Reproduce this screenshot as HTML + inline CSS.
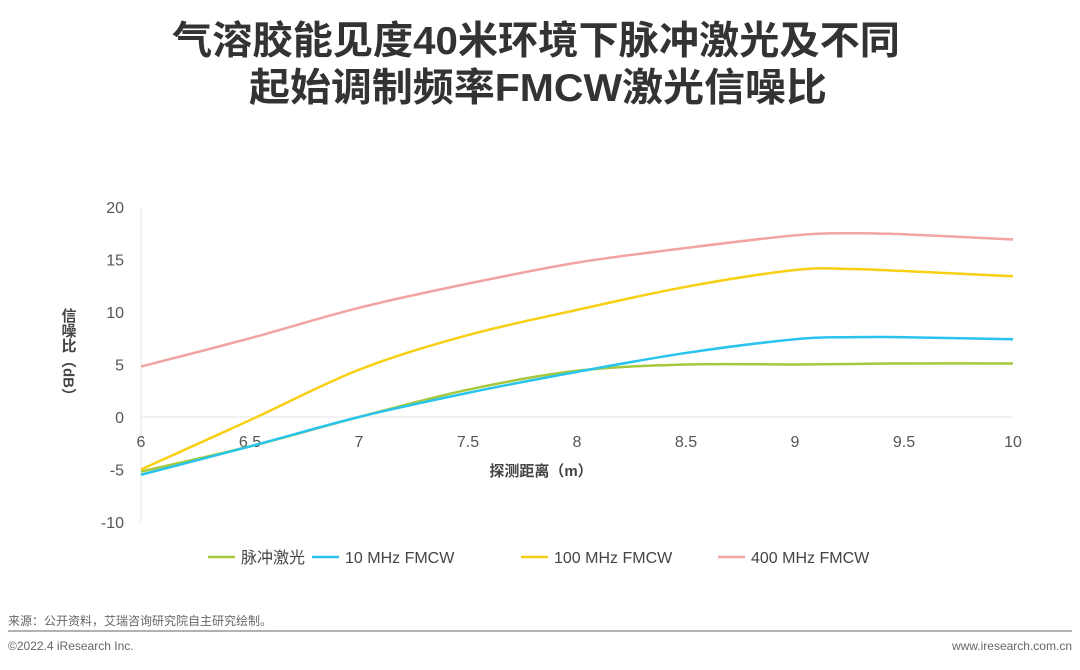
<!DOCTYPE html>
<html><head><meta charset="utf-8"><style>
body{margin:0;width:1080px;height:665px;background:#fff;overflow:hidden;font-family:"Liberation Sans","Noto Sans CJK SC",sans-serif;}
</style></head><body>
<svg width="1080" height="665" xmlns="http://www.w3.org/2000/svg" font-family="Liberation Sans, Noto Sans CJK SC, sans-serif">
<g font-size="39" font-weight="bold" fill="#333" text-anchor="middle">
<text x="536" y="54" textLength="728" lengthAdjust="spacingAndGlyphs">气溶胶能见度40米环境下脉冲激光及不同</text>
<text x="538" y="101" textLength="578" lengthAdjust="spacingAndGlyphs">起始调制频率FMCW激光信噪比</text>
</g>
<g id="axes"></g>
<g id="series"></g>
<text x="541" y="476" font-size="15" font-weight="bold" fill="#444" text-anchor="middle">探测距离（m）</text>
<text x="68" y="308" style="writing-mode:vertical-rl" font-size="15" font-weight="bold" fill="#444">信噪比（dB）</text>
<g id="legend" font-size="16" fill="#444"></g>
<text x="8" y="625" font-size="12" fill="#666">来源：公开资料，艾瑞咨询研究院自主研究绘制。</text>
<line x1="8" y1="631" x2="1072" y2="631" stroke="#999" stroke-width="1.5"/>
<text x="8" y="650" font-size="12" fill="#666">©2022.4 iResearch Inc.</text>
<text x="1072" y="650" font-size="12" fill="#666" text-anchor="end">www.iresearch.com.cn</text>
</svg>
<script>
const xValues=[6,6.5,7,7.5,8,8.5,9,9.25,9.5,10];
const pulseLaser=[-5.2,-2.8,0,2.6,4.4,5.0,5.0,5.05,5.1,5.1];
const fmcw10=[-5.5,-2.8,0,2.3,4.3,6.1,7.4,7.6,7.6,7.4];
const fmcw100=[-5.0,-0.3,4.5,7.8,10.2,12.4,14.0,14.1,13.9,13.4];
const fmcw400=[4.8,7.5,10.4,12.7,14.7,16.1,17.3,17.5,17.4,16.9];
const xTicks=[6,6.5,7,7.5,8,8.5,9,9.5,10];
const yTicks=[20,15,10,5,0,-5,-10];
const seriesNames=["脉冲激光","10 MHz FMCW","100 MHz FMCW","400 MHz FMCW"];
const NS="http://www.w3.org/2000/svg";
const X=v=>141+(v-6)*218;
const Y=v=>417-v*10.5;
function mk(t,a,p){const e=document.createElementNS(NS,t);for(const k in a)e.setAttribute(k,a[k]);p.appendChild(e);return e;}
const ax=document.getElementById('axes');
const yl=mk('line',{x1:141,y1:Y(20),x2:141,y2:Y(-10),stroke:'#e6e6e6'},ax);


const zl=mk('line',{x1:141,y1:Y(0),x2:1013,y2:Y(0),stroke:'#e6e6e6'},ax);


yTicks.forEach(v=>{const t=mk('text',{x:124,y:Y(v)+6,'font-size':16,fill:'#555','text-anchor':'end'},ax);t.textContent=v;

});
xTicks.forEach(v=>{const t=mk('text',{x:X(v),y:Y(0)+30,'font-size':16,fill:'#555','text-anchor':'middle'},ax);t.textContent=v;

});
function path(vals){const p=xValues.map((x,i)=>[X(x),Y(vals[i])]);let d='M'+p[0][0]+','+p[0][1];
for(let i=0;i<p.length-1;i++){const p0=p[i-1]||p[i],p1=p[i],p2=p[i+1],p3=p[i+2]||p2;
d+=' C'+(p1[0]+(p2[0]-p0[0])/6)+','+(p1[1]+(p2[1]-p0[1])/6)+' '+(p2[0]-(p3[0]-p1[0])/6)+','+(p2[1]-(p3[1]-p1[1])/6)+' '+p2[0]+','+p2[1];}return d;}
const colors=['#a5c83c','#29c4ee','#f9cf13','#f2a3a3'];
const data=[pulseLaser,fmcw10,fmcw100,fmcw400];
const names=['series-pulse-laser','series-10mhz','series-100mhz','series-400mhz'];
const sg=document.getElementById('series');
data.forEach((vals,i)=>{const e=mk('path',{d:path(vals),fill:'none',stroke:colors[i],'stroke-width':2.5},sg);

});
const lg=document.getElementById('legend');
const lx=[208,312,521,718];
seriesNames.forEach((n,i)=>{const g=mk('g',{},lg);


mk('line',{x1:lx[i],y1:557,x2:lx[i]+27,y2:557,stroke:colors[i],'stroke-width':2.5},g);
const t=mk('text',{x:lx[i]+33,y:563},g);t.textContent=n;});
</script>
</body></html>
